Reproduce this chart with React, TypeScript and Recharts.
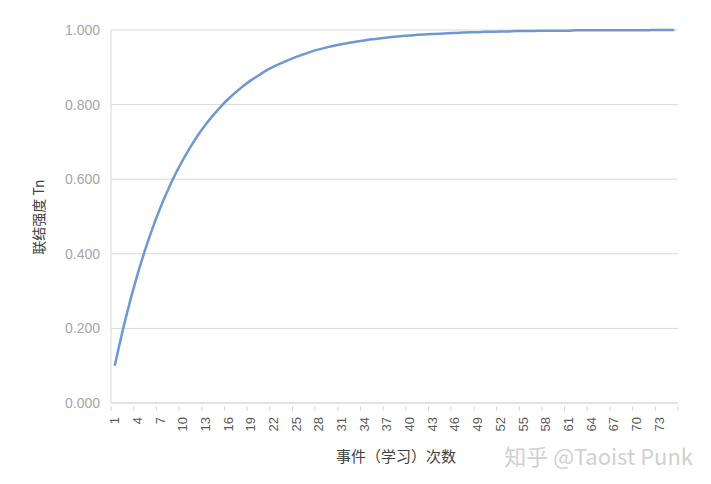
import React from "react";
import { LineChart, Line, XAxis, YAxis, CartesianGrid } from "recharts";

// events n = 1..75
const events: number[] = [
  1, 2, 3, 4, 5, 6, 7, 8, 9, 10, 11, 12, 13, 14, 15, 16, 17, 18, 19, 20,
  21, 22, 23, 24, 25, 26, 27, 28, 29, 30, 31, 32, 33, 34, 35, 36, 37, 38, 39, 40,
  41, 42, 43, 44, 45, 46, 47, 48, 49, 50, 51, 52, 53, 54, 55, 56, 57, 58, 59, 60,
  61, 62, 63, 64, 65, 66, 67, 68, 69, 70, 71, 72, 73, 74, 75,
];

// association strength Tn
const strength: number[] = [
  0.1, 0.19, 0.271, 0.344, 0.41, 0.469, 0.522, 0.57, 0.613, 0.651,
  0.686, 0.718, 0.746, 0.771, 0.794, 0.815, 0.833, 0.85, 0.865, 0.878,
  0.891, 0.902, 0.911, 0.92, 0.928, 0.935, 0.942, 0.948, 0.953, 0.958,
  0.962, 0.966, 0.969, 0.972, 0.975, 0.977, 0.98, 0.982, 0.984, 0.985,
  0.987, 0.988, 0.989, 0.99, 0.991, 0.992, 0.993, 0.994, 0.994, 0.995,
  0.995, 0.996, 0.996, 0.997, 0.997, 0.997, 0.998, 0.998, 0.998, 0.998,
  0.998, 0.999, 0.999, 0.999, 0.999, 0.999, 0.999, 0.999, 0.999, 0.999,
  0.999, 1.0, 1.0, 1.0, 1.0,
];

const xTickLabels: number[] = [1, 4, 7, 10, 13, 16, 19, 22, 25, 28, 31, 34, 37, 40, 43, 46, 49, 52, 55, 58, 61, 64, 67, 70, 73];
const yTicks: number[] = [0, 0.2, 0.4, 0.6, 0.8, 1.0];

const data = events.map((n, i) => ({ n, t: strength[i] }));

// tick marks sit on category boundaries (every 3 categories)
const boundaryTicks: number[] = [...xTickLabels.map((v) => v - 0.5), events[events.length - 1] + 0.5];

const FONT = "'Liberation Sans', Arial, 'Noto Sans CJK SC', sans-serif";
const CJK = "'Noto Sans CJK SC', 'Microsoft YaHei', sans-serif";

const XTick = (props: any) => {
  const { x, y, index } = props;
  const half = props.catWidth / 2;
  const label = index < xTickLabels.length ? xTickLabels[index] : null;
  return (
    <g>
      <line x1={x} x2={x} y1={y} y2={y - 5} stroke="#d9d9d9" strokeWidth={1} />
      {label !== null && (
        <text
          x={x + half}
          y={y + 6}
          transform={`rotate(-90, ${x + half}, ${y + 6})`}
          textAnchor="end"
          dominantBaseline="central"
          fontSize={13}
          fill="#595959"
          fontFamily={FONT}
        >
          {label}
        </text>
      )}
    </g>
  );
};

export default function App() {
  const left = 111;
  const right = 678;
  const catWidth = (right - left) / events.length;
  return (
    <div style={{ position: "absolute", left: 0, top: 0, width: 711, height: 484, background: "#fff" }}>
      <LineChart
        width={711}
        height={484}
        data={data}
        margin={{ top: 30, right: 711 - right, bottom: 0, left: 0 }}
      >
        <CartesianGrid vertical={false} stroke="#d9d9d9" strokeWidth={1} />
        <XAxis
          dataKey="n"
          type="number"
          domain={[0.5, events.length + 0.5]}
          ticks={boundaryTicks}
          interval={0}
          tickLine={false}
          axisLine={{ stroke: "#d9d9d9" }}
          tick={(p: any) => <XTick {...p} catWidth={catWidth} />}
          height={81}
        />
        <YAxis
          type="number"
          domain={[0, 1]}
          ticks={yTicks}
          width={left}
          tickLine={false}
          axisLine={{ stroke: "#d9d9d9" }}
          tickSize={0}
          tickMargin={11}
          tickFormatter={(v: number) => v.toFixed(3)}
          tick={{ fontSize: 14, fill: "#a6a6a6", fontFamily: FONT }}
        />
        <Line
          type="monotone"
          dataKey="t"
          stroke="#7098d0"
          strokeWidth={2.5}
          dot={false}
          isAnimationActive={false}
        />
      </LineChart>
      <svg width={711} height={484} style={{ position: "absolute", left: 0, top: 0, pointerEvents: "none" }}>
        <text
          x={38}
          y={217}
          transform="rotate(-90, 38, 217)"
          textAnchor="middle"
          dominantBaseline="central"
          fontSize={14}
          fill="#404040"
          fontFamily={CJK}
        >
          联结强度 Tn
        </text>
        <text
          x={396}
          y={455}
          textAnchor="middle"
          dominantBaseline="central"
          fontSize={15}
          fill="#404040"
          fontFamily={CJK}
        >
          事件（学习）次数
        </text>
        <text
          x={693}
          y={455}
          textAnchor="end"
          dominantBaseline="central"
          fontSize={22}
          fill="#d0d0d0"
          fontFamily={CJK}
        >
          知乎 @Taoist Punk
        </text>
      </svg>
    </div>
  );
}
